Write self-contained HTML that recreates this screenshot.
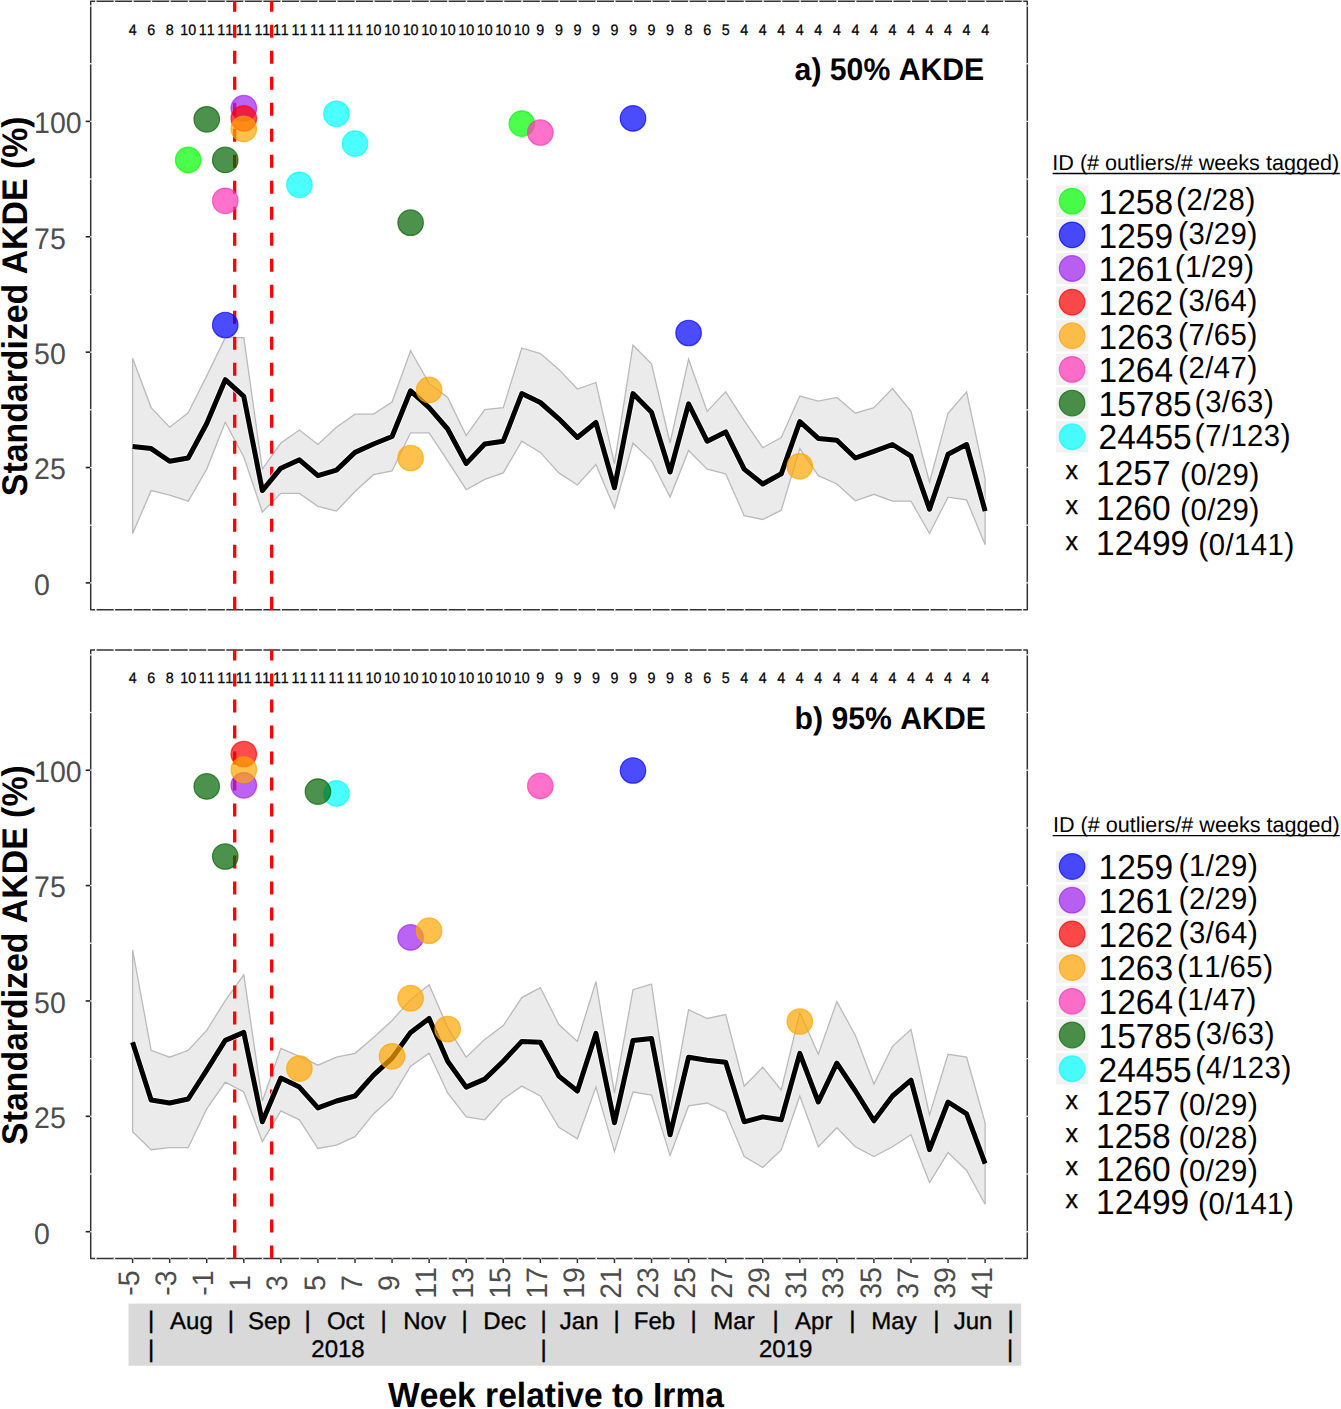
<!DOCTYPE html>
<html><head><meta charset="utf-8"><title>AKDE</title><style>
html,body{margin:0;padding:0;background:#fff;}
svg{display:block;}
text{font-family:"Liberation Sans",sans-serif;font-kerning:none;text-rendering:geometricPrecision;}
</style></head><body>
<svg width="1341" height="1409" viewBox="0 0 1341 1409">
<rect width="1341" height="1409" fill="#fff"/>

<polygon points="132.6,358.2 151.13,407.6 169.67,427.2 188.2,412.8 206.73,375.9 225.26,337.7 243.8,337.7 262.33,469.1 280.86,443 299.4,430 317.93,444.5 336.46,427.2 355,414.1 373.53,414.1 392.06,402 410.6,350.8 429.13,383.4 447.66,397.4 466.19,435.6 484.73,409.5 503.26,407.6 521.79,348 540.33,353.6 558.86,369.4 577.39,389 595.93,382.5 614.46,463.6 632.99,345.2 651.52,363.8 670.06,443 688.59,359.2 707.12,411.4 725.66,391.8 744.19,420.7 762.72,447.7 781.26,437.5 799.79,396 818.32,401.1 836.85,397.4 855.39,413.2 873.92,407.6 892.45,388.6 910.99,411.4 929.52,482.2 948.05,413.2 966.59,391.8 985.12,478.5 985.12,544.7 966.59,499.9 948.05,497.1 929.52,533.5 910.99,501.2 892.45,501.2 873.92,494.3 855.39,500.8 836.85,484 818.32,475.7 799.79,448.6 781.26,510.2 762.72,519.5 744.19,515.7 725.66,473.8 707.12,469.1 688.59,450.5 670.06,497.1 651.52,460.8 632.99,443 614.46,508.3 595.93,464.5 577.39,485 558.86,472.9 540.33,452.4 521.79,441.2 503.26,472.9 484.73,479.4 466.19,489.7 447.66,460.8 429.13,432.8 410.6,432.8 392.06,471 373.53,474.7 355,491.5 336.46,511.1 317.93,506.4 299.4,493.4 280.86,493.4 262.33,512 243.8,457 225.26,422.2 206.73,469.1 188.2,501.2 169.67,495.2 151.13,490.6 132.6,533.5" fill="#ebebeb" stroke="#bababa" stroke-width="1.3" stroke-linejoin="miter"/>
<rect x="90.7" y="1.3" width="936.6" height="608.4" fill="none" stroke="#333" stroke-width="1.5" stroke-linejoin="round"/>
<line x1="95.83" y1="0.3" x2="95.83" y2="2.3" stroke="#fff" stroke-width="1.5"/>
<line x1="95.83" y1="608.7" x2="95.83" y2="610.7" stroke="#fff" stroke-width="1.5"/>
<line x1="114.37" y1="0.3" x2="114.37" y2="2.3" stroke="#fff" stroke-width="1.5"/>
<line x1="114.37" y1="608.7" x2="114.37" y2="610.7" stroke="#fff" stroke-width="1.5"/>
<line x1="132.9" y1="0.3" x2="132.9" y2="2.3" stroke="#fff" stroke-width="1.5"/>
<line x1="132.9" y1="608.7" x2="132.9" y2="610.7" stroke="#fff" stroke-width="1.5"/>
<line x1="151.43" y1="0.3" x2="151.43" y2="2.3" stroke="#fff" stroke-width="1.5"/>
<line x1="151.43" y1="608.7" x2="151.43" y2="610.7" stroke="#fff" stroke-width="1.5"/>
<line x1="169.97" y1="0.3" x2="169.97" y2="2.3" stroke="#fff" stroke-width="1.5"/>
<line x1="169.97" y1="608.7" x2="169.97" y2="610.7" stroke="#fff" stroke-width="1.5"/>
<line x1="188.5" y1="0.3" x2="188.5" y2="2.3" stroke="#fff" stroke-width="1.5"/>
<line x1="188.5" y1="608.7" x2="188.5" y2="610.7" stroke="#fff" stroke-width="1.5"/>
<line x1="207.03" y1="0.3" x2="207.03" y2="2.3" stroke="#fff" stroke-width="1.5"/>
<line x1="207.03" y1="608.7" x2="207.03" y2="610.7" stroke="#fff" stroke-width="1.5"/>
<line x1="225.56" y1="0.3" x2="225.56" y2="2.3" stroke="#fff" stroke-width="1.5"/>
<line x1="225.56" y1="608.7" x2="225.56" y2="610.7" stroke="#fff" stroke-width="1.5"/>
<line x1="244.1" y1="0.3" x2="244.1" y2="2.3" stroke="#fff" stroke-width="1.5"/>
<line x1="244.1" y1="608.7" x2="244.1" y2="610.7" stroke="#fff" stroke-width="1.5"/>
<line x1="262.63" y1="0.3" x2="262.63" y2="2.3" stroke="#fff" stroke-width="1.5"/>
<line x1="262.63" y1="608.7" x2="262.63" y2="610.7" stroke="#fff" stroke-width="1.5"/>
<line x1="281.16" y1="0.3" x2="281.16" y2="2.3" stroke="#fff" stroke-width="1.5"/>
<line x1="281.16" y1="608.7" x2="281.16" y2="610.7" stroke="#fff" stroke-width="1.5"/>
<line x1="299.7" y1="0.3" x2="299.7" y2="2.3" stroke="#fff" stroke-width="1.5"/>
<line x1="299.7" y1="608.7" x2="299.7" y2="610.7" stroke="#fff" stroke-width="1.5"/>
<line x1="318.23" y1="0.3" x2="318.23" y2="2.3" stroke="#fff" stroke-width="1.5"/>
<line x1="318.23" y1="608.7" x2="318.23" y2="610.7" stroke="#fff" stroke-width="1.5"/>
<line x1="336.76" y1="0.3" x2="336.76" y2="2.3" stroke="#fff" stroke-width="1.5"/>
<line x1="336.76" y1="608.7" x2="336.76" y2="610.7" stroke="#fff" stroke-width="1.5"/>
<line x1="355.3" y1="0.3" x2="355.3" y2="2.3" stroke="#fff" stroke-width="1.5"/>
<line x1="355.3" y1="608.7" x2="355.3" y2="610.7" stroke="#fff" stroke-width="1.5"/>
<line x1="373.83" y1="0.3" x2="373.83" y2="2.3" stroke="#fff" stroke-width="1.5"/>
<line x1="373.83" y1="608.7" x2="373.83" y2="610.7" stroke="#fff" stroke-width="1.5"/>
<line x1="392.36" y1="0.3" x2="392.36" y2="2.3" stroke="#fff" stroke-width="1.5"/>
<line x1="392.36" y1="608.7" x2="392.36" y2="610.7" stroke="#fff" stroke-width="1.5"/>
<line x1="410.9" y1="0.3" x2="410.9" y2="2.3" stroke="#fff" stroke-width="1.5"/>
<line x1="410.9" y1="608.7" x2="410.9" y2="610.7" stroke="#fff" stroke-width="1.5"/>
<line x1="429.43" y1="0.3" x2="429.43" y2="2.3" stroke="#fff" stroke-width="1.5"/>
<line x1="429.43" y1="608.7" x2="429.43" y2="610.7" stroke="#fff" stroke-width="1.5"/>
<line x1="447.96" y1="0.3" x2="447.96" y2="2.3" stroke="#fff" stroke-width="1.5"/>
<line x1="447.96" y1="608.7" x2="447.96" y2="610.7" stroke="#fff" stroke-width="1.5"/>
<line x1="466.49" y1="0.3" x2="466.49" y2="2.3" stroke="#fff" stroke-width="1.5"/>
<line x1="466.49" y1="608.7" x2="466.49" y2="610.7" stroke="#fff" stroke-width="1.5"/>
<line x1="485.03" y1="0.3" x2="485.03" y2="2.3" stroke="#fff" stroke-width="1.5"/>
<line x1="485.03" y1="608.7" x2="485.03" y2="610.7" stroke="#fff" stroke-width="1.5"/>
<line x1="503.56" y1="0.3" x2="503.56" y2="2.3" stroke="#fff" stroke-width="1.5"/>
<line x1="503.56" y1="608.7" x2="503.56" y2="610.7" stroke="#fff" stroke-width="1.5"/>
<line x1="522.09" y1="0.3" x2="522.09" y2="2.3" stroke="#fff" stroke-width="1.5"/>
<line x1="522.09" y1="608.7" x2="522.09" y2="610.7" stroke="#fff" stroke-width="1.5"/>
<line x1="540.63" y1="0.3" x2="540.63" y2="2.3" stroke="#fff" stroke-width="1.5"/>
<line x1="540.63" y1="608.7" x2="540.63" y2="610.7" stroke="#fff" stroke-width="1.5"/>
<line x1="559.16" y1="0.3" x2="559.16" y2="2.3" stroke="#fff" stroke-width="1.5"/>
<line x1="559.16" y1="608.7" x2="559.16" y2="610.7" stroke="#fff" stroke-width="1.5"/>
<line x1="577.69" y1="0.3" x2="577.69" y2="2.3" stroke="#fff" stroke-width="1.5"/>
<line x1="577.69" y1="608.7" x2="577.69" y2="610.7" stroke="#fff" stroke-width="1.5"/>
<line x1="596.23" y1="0.3" x2="596.23" y2="2.3" stroke="#fff" stroke-width="1.5"/>
<line x1="596.23" y1="608.7" x2="596.23" y2="610.7" stroke="#fff" stroke-width="1.5"/>
<line x1="614.76" y1="0.3" x2="614.76" y2="2.3" stroke="#fff" stroke-width="1.5"/>
<line x1="614.76" y1="608.7" x2="614.76" y2="610.7" stroke="#fff" stroke-width="1.5"/>
<line x1="633.29" y1="0.3" x2="633.29" y2="2.3" stroke="#fff" stroke-width="1.5"/>
<line x1="633.29" y1="608.7" x2="633.29" y2="610.7" stroke="#fff" stroke-width="1.5"/>
<line x1="651.82" y1="0.3" x2="651.82" y2="2.3" stroke="#fff" stroke-width="1.5"/>
<line x1="651.82" y1="608.7" x2="651.82" y2="610.7" stroke="#fff" stroke-width="1.5"/>
<line x1="670.36" y1="0.3" x2="670.36" y2="2.3" stroke="#fff" stroke-width="1.5"/>
<line x1="670.36" y1="608.7" x2="670.36" y2="610.7" stroke="#fff" stroke-width="1.5"/>
<line x1="688.89" y1="0.3" x2="688.89" y2="2.3" stroke="#fff" stroke-width="1.5"/>
<line x1="688.89" y1="608.7" x2="688.89" y2="610.7" stroke="#fff" stroke-width="1.5"/>
<line x1="707.42" y1="0.3" x2="707.42" y2="2.3" stroke="#fff" stroke-width="1.5"/>
<line x1="707.42" y1="608.7" x2="707.42" y2="610.7" stroke="#fff" stroke-width="1.5"/>
<line x1="725.96" y1="0.3" x2="725.96" y2="2.3" stroke="#fff" stroke-width="1.5"/>
<line x1="725.96" y1="608.7" x2="725.96" y2="610.7" stroke="#fff" stroke-width="1.5"/>
<line x1="744.49" y1="0.3" x2="744.49" y2="2.3" stroke="#fff" stroke-width="1.5"/>
<line x1="744.49" y1="608.7" x2="744.49" y2="610.7" stroke="#fff" stroke-width="1.5"/>
<line x1="763.02" y1="0.3" x2="763.02" y2="2.3" stroke="#fff" stroke-width="1.5"/>
<line x1="763.02" y1="608.7" x2="763.02" y2="610.7" stroke="#fff" stroke-width="1.5"/>
<line x1="781.56" y1="0.3" x2="781.56" y2="2.3" stroke="#fff" stroke-width="1.5"/>
<line x1="781.56" y1="608.7" x2="781.56" y2="610.7" stroke="#fff" stroke-width="1.5"/>
<line x1="800.09" y1="0.3" x2="800.09" y2="2.3" stroke="#fff" stroke-width="1.5"/>
<line x1="800.09" y1="608.7" x2="800.09" y2="610.7" stroke="#fff" stroke-width="1.5"/>
<line x1="818.62" y1="0.3" x2="818.62" y2="2.3" stroke="#fff" stroke-width="1.5"/>
<line x1="818.62" y1="608.7" x2="818.62" y2="610.7" stroke="#fff" stroke-width="1.5"/>
<line x1="837.15" y1="0.3" x2="837.15" y2="2.3" stroke="#fff" stroke-width="1.5"/>
<line x1="837.15" y1="608.7" x2="837.15" y2="610.7" stroke="#fff" stroke-width="1.5"/>
<line x1="855.69" y1="0.3" x2="855.69" y2="2.3" stroke="#fff" stroke-width="1.5"/>
<line x1="855.69" y1="608.7" x2="855.69" y2="610.7" stroke="#fff" stroke-width="1.5"/>
<line x1="874.22" y1="0.3" x2="874.22" y2="2.3" stroke="#fff" stroke-width="1.5"/>
<line x1="874.22" y1="608.7" x2="874.22" y2="610.7" stroke="#fff" stroke-width="1.5"/>
<line x1="892.75" y1="0.3" x2="892.75" y2="2.3" stroke="#fff" stroke-width="1.5"/>
<line x1="892.75" y1="608.7" x2="892.75" y2="610.7" stroke="#fff" stroke-width="1.5"/>
<line x1="911.29" y1="0.3" x2="911.29" y2="2.3" stroke="#fff" stroke-width="1.5"/>
<line x1="911.29" y1="608.7" x2="911.29" y2="610.7" stroke="#fff" stroke-width="1.5"/>
<line x1="929.82" y1="0.3" x2="929.82" y2="2.3" stroke="#fff" stroke-width="1.5"/>
<line x1="929.82" y1="608.7" x2="929.82" y2="610.7" stroke="#fff" stroke-width="1.5"/>
<line x1="948.35" y1="0.3" x2="948.35" y2="2.3" stroke="#fff" stroke-width="1.5"/>
<line x1="948.35" y1="608.7" x2="948.35" y2="610.7" stroke="#fff" stroke-width="1.5"/>
<line x1="966.88" y1="0.3" x2="966.88" y2="2.3" stroke="#fff" stroke-width="1.5"/>
<line x1="966.88" y1="608.7" x2="966.88" y2="610.7" stroke="#fff" stroke-width="1.5"/>
<line x1="985.42" y1="0.3" x2="985.42" y2="2.3" stroke="#fff" stroke-width="1.5"/>
<line x1="985.42" y1="608.7" x2="985.42" y2="610.7" stroke="#fff" stroke-width="1.5"/>
<line x1="1003.95" y1="0.3" x2="1003.95" y2="2.3" stroke="#fff" stroke-width="1.5"/>
<line x1="1003.95" y1="608.7" x2="1003.95" y2="610.7" stroke="#fff" stroke-width="1.5"/>
<line x1="1022.48" y1="0.3" x2="1022.48" y2="2.3" stroke="#fff" stroke-width="1.5"/>
<line x1="1022.48" y1="608.7" x2="1022.48" y2="610.7" stroke="#fff" stroke-width="1.5"/>
<line x1="89.7" y1="582.9" x2="91.7" y2="582.9" stroke="#fff" stroke-width="1.3"/>
<line x1="1026.3" y1="582.9" x2="1028.3" y2="582.9" stroke="#fff" stroke-width="1.3"/>
<line x1="89.7" y1="525.21" x2="91.7" y2="525.21" stroke="#fff" stroke-width="1.3"/>
<line x1="1026.3" y1="525.21" x2="1028.3" y2="525.21" stroke="#fff" stroke-width="1.3"/>
<line x1="89.7" y1="467.52" x2="91.7" y2="467.52" stroke="#fff" stroke-width="1.3"/>
<line x1="1026.3" y1="467.52" x2="1028.3" y2="467.52" stroke="#fff" stroke-width="1.3"/>
<line x1="89.7" y1="409.84" x2="91.7" y2="409.84" stroke="#fff" stroke-width="1.3"/>
<line x1="1026.3" y1="409.84" x2="1028.3" y2="409.84" stroke="#fff" stroke-width="1.3"/>
<line x1="89.7" y1="352.15" x2="91.7" y2="352.15" stroke="#fff" stroke-width="1.3"/>
<line x1="1026.3" y1="352.15" x2="1028.3" y2="352.15" stroke="#fff" stroke-width="1.3"/>
<line x1="89.7" y1="294.46" x2="91.7" y2="294.46" stroke="#fff" stroke-width="1.3"/>
<line x1="1026.3" y1="294.46" x2="1028.3" y2="294.46" stroke="#fff" stroke-width="1.3"/>
<line x1="89.7" y1="236.77" x2="91.7" y2="236.77" stroke="#fff" stroke-width="1.3"/>
<line x1="1026.3" y1="236.77" x2="1028.3" y2="236.77" stroke="#fff" stroke-width="1.3"/>
<line x1="89.7" y1="179.09" x2="91.7" y2="179.09" stroke="#fff" stroke-width="1.3"/>
<line x1="1026.3" y1="179.09" x2="1028.3" y2="179.09" stroke="#fff" stroke-width="1.3"/>
<line x1="89.7" y1="121.4" x2="91.7" y2="121.4" stroke="#fff" stroke-width="1.3"/>
<line x1="1026.3" y1="121.4" x2="1028.3" y2="121.4" stroke="#fff" stroke-width="1.3"/>
<line x1="89.7" y1="63.71" x2="91.7" y2="63.71" stroke="#fff" stroke-width="1.3"/>
<line x1="1026.3" y1="63.71" x2="1028.3" y2="63.71" stroke="#fff" stroke-width="1.3"/>
<line x1="89.7" y1="6.02" x2="91.7" y2="6.02" stroke="#fff" stroke-width="1.3"/>
<line x1="1026.3" y1="6.02" x2="1028.3" y2="6.02" stroke="#fff" stroke-width="1.3"/>
<text x="0" y="0" transform="translate(132.6 34.5) scale(1 1.06)" font-size="14.3" fill="#000" text-anchor="middle" stroke="#000" stroke-width="0.25">4</text>
<text x="0" y="0" transform="translate(151.133 34.5) scale(1 1.06)" font-size="14.3" fill="#000" text-anchor="middle" stroke="#000" stroke-width="0.25">6</text>
<text x="0" y="0" transform="translate(169.666 34.5) scale(1 1.06)" font-size="14.3" fill="#000" text-anchor="middle" stroke="#000" stroke-width="0.25">8</text>
<text x="0" y="0" transform="translate(188.199 34.5) scale(1 1.06)" font-size="14.3" fill="#000" text-anchor="middle" stroke="#000" stroke-width="0.25">10</text>
<text x="0" y="0" transform="translate(206.732 34.5) scale(1 1.06)" font-size="14.3" fill="#000" text-anchor="middle" stroke="#000" stroke-width="0.25">11</text>
<text x="0" y="0" transform="translate(225.265 34.5) scale(1 1.06)" font-size="14.3" fill="#000" text-anchor="middle" stroke="#000" stroke-width="0.25">11</text>
<text x="0" y="0" transform="translate(243.798 34.5) scale(1 1.06)" font-size="14.3" fill="#000" text-anchor="middle" stroke="#000" stroke-width="0.25">11</text>
<text x="0" y="0" transform="translate(262.331 34.5) scale(1 1.06)" font-size="14.3" fill="#000" text-anchor="middle" stroke="#000" stroke-width="0.25">11</text>
<text x="0" y="0" transform="translate(280.864 34.5) scale(1 1.06)" font-size="14.3" fill="#000" text-anchor="middle" stroke="#000" stroke-width="0.25">11</text>
<text x="0" y="0" transform="translate(299.397 34.5) scale(1 1.06)" font-size="14.3" fill="#000" text-anchor="middle" stroke="#000" stroke-width="0.25">11</text>
<text x="0" y="0" transform="translate(317.93 34.5) scale(1 1.06)" font-size="14.3" fill="#000" text-anchor="middle" stroke="#000" stroke-width="0.25">11</text>
<text x="0" y="0" transform="translate(336.463 34.5) scale(1 1.06)" font-size="14.3" fill="#000" text-anchor="middle" stroke="#000" stroke-width="0.25">11</text>
<text x="0" y="0" transform="translate(354.996 34.5) scale(1 1.06)" font-size="14.3" fill="#000" text-anchor="middle" stroke="#000" stroke-width="0.25">11</text>
<text x="0" y="0" transform="translate(373.529 34.5) scale(1 1.06)" font-size="14.3" fill="#000" text-anchor="middle" stroke="#000" stroke-width="0.25">10</text>
<text x="0" y="0" transform="translate(392.062 34.5) scale(1 1.06)" font-size="14.3" fill="#000" text-anchor="middle" stroke="#000" stroke-width="0.25">10</text>
<text x="0" y="0" transform="translate(410.595 34.5) scale(1 1.06)" font-size="14.3" fill="#000" text-anchor="middle" stroke="#000" stroke-width="0.25">10</text>
<text x="0" y="0" transform="translate(429.128 34.5) scale(1 1.06)" font-size="14.3" fill="#000" text-anchor="middle" stroke="#000" stroke-width="0.25">10</text>
<text x="0" y="0" transform="translate(447.661 34.5) scale(1 1.06)" font-size="14.3" fill="#000" text-anchor="middle" stroke="#000" stroke-width="0.25">10</text>
<text x="0" y="0" transform="translate(466.194 34.5) scale(1 1.06)" font-size="14.3" fill="#000" text-anchor="middle" stroke="#000" stroke-width="0.25">10</text>
<text x="0" y="0" transform="translate(484.727 34.5) scale(1 1.06)" font-size="14.3" fill="#000" text-anchor="middle" stroke="#000" stroke-width="0.25">10</text>
<text x="0" y="0" transform="translate(503.26 34.5) scale(1 1.06)" font-size="14.3" fill="#000" text-anchor="middle" stroke="#000" stroke-width="0.25">10</text>
<text x="0" y="0" transform="translate(521.793 34.5) scale(1 1.06)" font-size="14.3" fill="#000" text-anchor="middle" stroke="#000" stroke-width="0.25">10</text>
<text x="0" y="0" transform="translate(540.326 34.5) scale(1 1.06)" font-size="14.3" fill="#000" text-anchor="middle" stroke="#000" stroke-width="0.25">9</text>
<text x="0" y="0" transform="translate(558.859 34.5) scale(1 1.06)" font-size="14.3" fill="#000" text-anchor="middle" stroke="#000" stroke-width="0.25">9</text>
<text x="0" y="0" transform="translate(577.392 34.5) scale(1 1.06)" font-size="14.3" fill="#000" text-anchor="middle" stroke="#000" stroke-width="0.25">9</text>
<text x="0" y="0" transform="translate(595.925 34.5) scale(1 1.06)" font-size="14.3" fill="#000" text-anchor="middle" stroke="#000" stroke-width="0.25">9</text>
<text x="0" y="0" transform="translate(614.458 34.5) scale(1 1.06)" font-size="14.3" fill="#000" text-anchor="middle" stroke="#000" stroke-width="0.25">9</text>
<text x="0" y="0" transform="translate(632.991 34.5) scale(1 1.06)" font-size="14.3" fill="#000" text-anchor="middle" stroke="#000" stroke-width="0.25">9</text>
<text x="0" y="0" transform="translate(651.524 34.5) scale(1 1.06)" font-size="14.3" fill="#000" text-anchor="middle" stroke="#000" stroke-width="0.25">9</text>
<text x="0" y="0" transform="translate(670.057 34.5) scale(1 1.06)" font-size="14.3" fill="#000" text-anchor="middle" stroke="#000" stroke-width="0.25">9</text>
<text x="0" y="0" transform="translate(688.59 34.5) scale(1 1.06)" font-size="14.3" fill="#000" text-anchor="middle" stroke="#000" stroke-width="0.25">8</text>
<text x="0" y="0" transform="translate(707.123 34.5) scale(1 1.06)" font-size="14.3" fill="#000" text-anchor="middle" stroke="#000" stroke-width="0.25">6</text>
<text x="0" y="0" transform="translate(725.656 34.5) scale(1 1.06)" font-size="14.3" fill="#000" text-anchor="middle" stroke="#000" stroke-width="0.25">5</text>
<text x="0" y="0" transform="translate(744.189 34.5) scale(1 1.06)" font-size="14.3" fill="#000" text-anchor="middle" stroke="#000" stroke-width="0.25">4</text>
<text x="0" y="0" transform="translate(762.722 34.5) scale(1 1.06)" font-size="14.3" fill="#000" text-anchor="middle" stroke="#000" stroke-width="0.25">4</text>
<text x="0" y="0" transform="translate(781.255 34.5) scale(1 1.06)" font-size="14.3" fill="#000" text-anchor="middle" stroke="#000" stroke-width="0.25">4</text>
<text x="0" y="0" transform="translate(799.788 34.5) scale(1 1.06)" font-size="14.3" fill="#000" text-anchor="middle" stroke="#000" stroke-width="0.25">4</text>
<text x="0" y="0" transform="translate(818.321 34.5) scale(1 1.06)" font-size="14.3" fill="#000" text-anchor="middle" stroke="#000" stroke-width="0.25">4</text>
<text x="0" y="0" transform="translate(836.854 34.5) scale(1 1.06)" font-size="14.3" fill="#000" text-anchor="middle" stroke="#000" stroke-width="0.25">4</text>
<text x="0" y="0" transform="translate(855.387 34.5) scale(1 1.06)" font-size="14.3" fill="#000" text-anchor="middle" stroke="#000" stroke-width="0.25">4</text>
<text x="0" y="0" transform="translate(873.92 34.5) scale(1 1.06)" font-size="14.3" fill="#000" text-anchor="middle" stroke="#000" stroke-width="0.25">4</text>
<text x="0" y="0" transform="translate(892.453 34.5) scale(1 1.06)" font-size="14.3" fill="#000" text-anchor="middle" stroke="#000" stroke-width="0.25">4</text>
<text x="0" y="0" transform="translate(910.986 34.5) scale(1 1.06)" font-size="14.3" fill="#000" text-anchor="middle" stroke="#000" stroke-width="0.25">4</text>
<text x="0" y="0" transform="translate(929.519 34.5) scale(1 1.06)" font-size="14.3" fill="#000" text-anchor="middle" stroke="#000" stroke-width="0.25">4</text>
<text x="0" y="0" transform="translate(948.052 34.5) scale(1 1.06)" font-size="14.3" fill="#000" text-anchor="middle" stroke="#000" stroke-width="0.25">4</text>
<text x="0" y="0" transform="translate(966.585 34.5) scale(1 1.06)" font-size="14.3" fill="#000" text-anchor="middle" stroke="#000" stroke-width="0.25">4</text>
<text x="0" y="0" transform="translate(985.118 34.5) scale(1 1.06)" font-size="14.3" fill="#000" text-anchor="middle" stroke="#000" stroke-width="0.25">4</text>
<text x="0" y="0" transform="translate(794.6 79.8) scale(1 1.04)" font-size="30.2" fill="#000" font-weight="bold">a) 50% AKDE</text>
<line x1="234.7" y1="609.7" x2="234.7" y2="1.3" stroke="#ff0000" stroke-width="3.3" stroke-dasharray="13 13"/>
<line x1="271.7" y1="609.7" x2="271.7" y2="1.3" stroke="#ff0000" stroke-width="3.3" stroke-dasharray="13 13"/>
<polyline points="132.6,446.4 151.13,448.6 169.67,461.3 188.2,458 206.73,423.5 225.26,379.7 243.8,396.4 262.33,490.6 280.86,468.2 299.4,459.8 317.93,475.7 336.46,470.1 355,452.4 373.53,444 392.06,436.5 410.6,390.8 429.13,407.6 447.66,429 466.19,463.6 484.73,444 503.26,441.2 521.79,393.6 540.33,402.5 558.86,418.8 577.39,437.5 595.93,422.5 614.46,487.8 632.99,393.6 651.52,412.3 670.06,472 688.59,403.9 707.12,441.2 725.66,431.9 744.19,469.1 762.72,484 781.26,473.8 799.79,421.6 818.32,438.4 836.85,440.2 855.39,458 873.92,451.4 892.45,444.5 910.99,456.1 929.52,509.2 948.05,454.2 966.59,444.5 985.12,511.1" fill="none" stroke="#fff" stroke-opacity="0.75" stroke-width="7" stroke-linejoin="round"/>
<polyline points="132.6,446.4 151.13,448.6 169.67,461.3 188.2,458 206.73,423.5 225.26,379.7 243.8,396.4 262.33,490.6 280.86,468.2 299.4,459.8 317.93,475.7 336.46,470.1 355,452.4 373.53,444 392.06,436.5 410.6,390.8 429.13,407.6 447.66,429 466.19,463.6 484.73,444 503.26,441.2 521.79,393.6 540.33,402.5 558.86,418.8 577.39,437.5 595.93,422.5 614.46,487.8 632.99,393.6 651.52,412.3 670.06,472 688.59,403.9 707.12,441.2 725.66,431.9 744.19,469.1 762.72,484 781.26,473.8 799.79,421.6 818.32,438.4 836.85,440.2 855.39,458 873.92,451.4 892.45,444.5 910.99,456.1 929.52,509.2 948.05,454.2 966.59,444.5 985.12,511.1" fill="none" stroke="#000" stroke-width="5" stroke-linejoin="round"/>
<circle cx="299.4" cy="184.8" r="12.75" fill="rgba(0,255,255,0.7)" stroke="rgba(0,255,255,0.7)" stroke-width="1.2"/>
<circle cx="336.46" cy="113.8" r="12.75" fill="rgba(0,255,255,0.7)" stroke="rgba(0,255,255,0.7)" stroke-width="1.2"/>
<circle cx="355" cy="143.6" r="12.75" fill="rgba(0,255,255,0.7)" stroke="rgba(0,255,255,0.7)" stroke-width="1.2"/>
<circle cx="188.2" cy="159.9" r="12.75" fill="rgba(0,255,0,0.7)" stroke="rgba(0,255,0,0.7)" stroke-width="1.2"/>
<circle cx="521.79" cy="123.6" r="12.75" fill="rgba(0,255,0,0.7)" stroke="rgba(0,255,0,0.7)" stroke-width="1.2"/>
<circle cx="225.26" cy="325" r="12.75" fill="rgba(0,0,255,0.7)" stroke="rgba(0,0,255,0.7)" stroke-width="1.2"/>
<circle cx="632.99" cy="118.4" r="12.75" fill="rgba(0,0,255,0.7)" stroke="rgba(0,0,255,0.7)" stroke-width="1.2"/>
<circle cx="688.59" cy="333" r="12.75" fill="rgba(0,0,255,0.7)" stroke="rgba(0,0,255,0.7)" stroke-width="1.2"/>
<circle cx="243.8" cy="108.2" r="12.75" fill="rgba(160,32,240,0.7)" stroke="rgba(160,32,240,0.7)" stroke-width="1.2"/>
<circle cx="243.8" cy="118.4" r="12.75" fill="rgba(255,0,0,0.7)" stroke="rgba(255,0,0,0.7)" stroke-width="1.2"/>
<circle cx="243.8" cy="128.9" r="12.75" fill="rgba(255,165,0,0.7)" stroke="rgba(255,165,0,0.7)" stroke-width="1.2"/>
<circle cx="410.6" cy="458" r="12.75" fill="rgba(255,165,0,0.7)" stroke="rgba(255,165,0,0.7)" stroke-width="1.2"/>
<circle cx="429.13" cy="389.9" r="12.75" fill="rgba(255,165,0,0.7)" stroke="rgba(255,165,0,0.7)" stroke-width="1.2"/>
<circle cx="799.79" cy="466.3" r="12.75" fill="rgba(255,165,0,0.7)" stroke="rgba(255,165,0,0.7)" stroke-width="1.2"/>
<circle cx="225.26" cy="200.8" r="12.75" fill="rgba(255,52,179,0.7)" stroke="rgba(255,52,179,0.7)" stroke-width="1.2"/>
<circle cx="540.33" cy="132.5" r="12.75" fill="rgba(255,52,179,0.7)" stroke="rgba(255,52,179,0.7)" stroke-width="1.2"/>
<circle cx="206.73" cy="119.3" r="12.75" fill="rgba(0,100,0,0.7)" stroke="rgba(0,100,0,0.7)" stroke-width="1.2"/>
<circle cx="225.26" cy="159.9" r="12.75" fill="rgba(0,100,0,0.7)" stroke="rgba(0,100,0,0.7)" stroke-width="1.2"/>
<circle cx="410.6" cy="222.7" r="12.75" fill="rgba(0,100,0,0.7)" stroke="rgba(0,100,0,0.7)" stroke-width="1.2"/>
<line x1="85.7" y1="582.9" x2="90.1" y2="582.9" stroke="#222" stroke-width="1.6"/>
<text x="0" y="0" transform="translate(34.1 594.8) scale(1 1.04)" font-size="28.5" fill="#4d4d4d">0</text>
<line x1="85.7" y1="467.52" x2="90.1" y2="467.52" stroke="#222" stroke-width="1.6"/>
<text x="0" y="0" transform="translate(34.1 479.425) scale(1 1.04)" font-size="28.5" fill="#4d4d4d">25</text>
<line x1="85.7" y1="352.15" x2="90.1" y2="352.15" stroke="#222" stroke-width="1.6"/>
<text x="0" y="0" transform="translate(34.1 364.05) scale(1 1.04)" font-size="28.5" fill="#4d4d4d">50</text>
<line x1="85.7" y1="236.77" x2="90.1" y2="236.77" stroke="#222" stroke-width="1.6"/>
<text x="0" y="0" transform="translate(34.1 248.675) scale(1 1.04)" font-size="28.5" fill="#4d4d4d">75</text>
<line x1="85.7" y1="121.4" x2="90.1" y2="121.4" stroke="#222" stroke-width="1.6"/>
<text x="0" y="0" transform="translate(34.1 133.3) scale(1 1.04)" font-size="28.5" fill="#4d4d4d">100</text>
<text x="0" y="0" transform="translate(26.5 306.3) rotate(-90) scale(1 1.055)" font-size="33.85" fill="#000" font-weight="bold" text-anchor="middle">Standardized AKDE (%)</text>
<polygon points="132.6,949.9 151.13,1050.3 169.67,1057.2 188.2,1050.3 206.73,1030.4 225.26,1000.6 243.8,974.8 262.33,1101 280.86,1048.3 299.4,1056.3 317.93,1065.2 336.46,1057.2 355,1053.3 373.53,1037.4 392.06,1020.5 410.6,999.6 429.13,984.7 447.66,1027.4 466.19,1057.2 484.73,1039.4 503.26,1025.5 521.79,997.6 540.33,987.7 558.86,1024.5 577.39,1041.4 595.93,981.7 614.46,1093 632.99,989.7 651.52,984.1 670.06,1110.9 688.59,1009.6 707.12,1018.5 725.66,1014.5 744.19,1086.1 762.72,1067.2 781.26,1090 799.79,1012.5 818.32,1054.3 836.85,1001.6 855.39,1035.4 873.92,1084.1 892.45,1046.3 910.99,1029.4 929.52,1114.9 948.05,1054.3 966.59,1057.2 985.12,1122.8 985.12,1204.3 966.59,1170.5 948.05,1152.6 929.52,1182.5 910.99,1134.8 892.45,1146.7 873.92,1156.6 855.39,1146.7 836.85,1127.8 818.32,1146.7 799.79,1096 781.26,1150 762.72,1167.5 744.19,1156.6 725.66,1111.9 707.12,1103 688.59,1105.9 670.06,1155.6 651.52,1095 632.99,1092 614.46,1151.6 595.93,1087.1 577.39,1138.7 558.86,1127.3 540.33,1096 521.79,1086.1 503.26,1099 484.73,1119.8 466.19,1116.9 447.66,1093 429.13,1053.3 410.6,1066.2 392.06,1097 373.53,1113.9 355,1136.7 336.46,1145.2 317.93,1148.5 299.4,1119.8 280.86,1110.9 262.33,1141.7 243.8,1092 225.26,1082.1 206.73,1108.9 188.2,1147.7 169.67,1147.7 151.13,1149.7 132.6,1131.8" fill="#ebebeb" stroke="#bababa" stroke-width="1.3" stroke-linejoin="miter"/>
<rect x="90.7" y="650.1" width="936.6" height="608.4" fill="none" stroke="#333" stroke-width="1.5" stroke-linejoin="round"/>
<line x1="95.83" y1="649.1" x2="95.83" y2="651.1" stroke="#fff" stroke-width="1.5"/>
<line x1="95.83" y1="1257.5" x2="95.83" y2="1259.5" stroke="#fff" stroke-width="1.5"/>
<line x1="114.37" y1="649.1" x2="114.37" y2="651.1" stroke="#fff" stroke-width="1.5"/>
<line x1="114.37" y1="1257.5" x2="114.37" y2="1259.5" stroke="#fff" stroke-width="1.5"/>
<line x1="132.9" y1="649.1" x2="132.9" y2="651.1" stroke="#fff" stroke-width="1.5"/>
<line x1="132.9" y1="1257.5" x2="132.9" y2="1259.5" stroke="#fff" stroke-width="1.5"/>
<line x1="151.43" y1="649.1" x2="151.43" y2="651.1" stroke="#fff" stroke-width="1.5"/>
<line x1="151.43" y1="1257.5" x2="151.43" y2="1259.5" stroke="#fff" stroke-width="1.5"/>
<line x1="169.97" y1="649.1" x2="169.97" y2="651.1" stroke="#fff" stroke-width="1.5"/>
<line x1="169.97" y1="1257.5" x2="169.97" y2="1259.5" stroke="#fff" stroke-width="1.5"/>
<line x1="188.5" y1="649.1" x2="188.5" y2="651.1" stroke="#fff" stroke-width="1.5"/>
<line x1="188.5" y1="1257.5" x2="188.5" y2="1259.5" stroke="#fff" stroke-width="1.5"/>
<line x1="207.03" y1="649.1" x2="207.03" y2="651.1" stroke="#fff" stroke-width="1.5"/>
<line x1="207.03" y1="1257.5" x2="207.03" y2="1259.5" stroke="#fff" stroke-width="1.5"/>
<line x1="225.56" y1="649.1" x2="225.56" y2="651.1" stroke="#fff" stroke-width="1.5"/>
<line x1="225.56" y1="1257.5" x2="225.56" y2="1259.5" stroke="#fff" stroke-width="1.5"/>
<line x1="244.1" y1="649.1" x2="244.1" y2="651.1" stroke="#fff" stroke-width="1.5"/>
<line x1="244.1" y1="1257.5" x2="244.1" y2="1259.5" stroke="#fff" stroke-width="1.5"/>
<line x1="262.63" y1="649.1" x2="262.63" y2="651.1" stroke="#fff" stroke-width="1.5"/>
<line x1="262.63" y1="1257.5" x2="262.63" y2="1259.5" stroke="#fff" stroke-width="1.5"/>
<line x1="281.16" y1="649.1" x2="281.16" y2="651.1" stroke="#fff" stroke-width="1.5"/>
<line x1="281.16" y1="1257.5" x2="281.16" y2="1259.5" stroke="#fff" stroke-width="1.5"/>
<line x1="299.7" y1="649.1" x2="299.7" y2="651.1" stroke="#fff" stroke-width="1.5"/>
<line x1="299.7" y1="1257.5" x2="299.7" y2="1259.5" stroke="#fff" stroke-width="1.5"/>
<line x1="318.23" y1="649.1" x2="318.23" y2="651.1" stroke="#fff" stroke-width="1.5"/>
<line x1="318.23" y1="1257.5" x2="318.23" y2="1259.5" stroke="#fff" stroke-width="1.5"/>
<line x1="336.76" y1="649.1" x2="336.76" y2="651.1" stroke="#fff" stroke-width="1.5"/>
<line x1="336.76" y1="1257.5" x2="336.76" y2="1259.5" stroke="#fff" stroke-width="1.5"/>
<line x1="355.3" y1="649.1" x2="355.3" y2="651.1" stroke="#fff" stroke-width="1.5"/>
<line x1="355.3" y1="1257.5" x2="355.3" y2="1259.5" stroke="#fff" stroke-width="1.5"/>
<line x1="373.83" y1="649.1" x2="373.83" y2="651.1" stroke="#fff" stroke-width="1.5"/>
<line x1="373.83" y1="1257.5" x2="373.83" y2="1259.5" stroke="#fff" stroke-width="1.5"/>
<line x1="392.36" y1="649.1" x2="392.36" y2="651.1" stroke="#fff" stroke-width="1.5"/>
<line x1="392.36" y1="1257.5" x2="392.36" y2="1259.5" stroke="#fff" stroke-width="1.5"/>
<line x1="410.9" y1="649.1" x2="410.9" y2="651.1" stroke="#fff" stroke-width="1.5"/>
<line x1="410.9" y1="1257.5" x2="410.9" y2="1259.5" stroke="#fff" stroke-width="1.5"/>
<line x1="429.43" y1="649.1" x2="429.43" y2="651.1" stroke="#fff" stroke-width="1.5"/>
<line x1="429.43" y1="1257.5" x2="429.43" y2="1259.5" stroke="#fff" stroke-width="1.5"/>
<line x1="447.96" y1="649.1" x2="447.96" y2="651.1" stroke="#fff" stroke-width="1.5"/>
<line x1="447.96" y1="1257.5" x2="447.96" y2="1259.5" stroke="#fff" stroke-width="1.5"/>
<line x1="466.49" y1="649.1" x2="466.49" y2="651.1" stroke="#fff" stroke-width="1.5"/>
<line x1="466.49" y1="1257.5" x2="466.49" y2="1259.5" stroke="#fff" stroke-width="1.5"/>
<line x1="485.03" y1="649.1" x2="485.03" y2="651.1" stroke="#fff" stroke-width="1.5"/>
<line x1="485.03" y1="1257.5" x2="485.03" y2="1259.5" stroke="#fff" stroke-width="1.5"/>
<line x1="503.56" y1="649.1" x2="503.56" y2="651.1" stroke="#fff" stroke-width="1.5"/>
<line x1="503.56" y1="1257.5" x2="503.56" y2="1259.5" stroke="#fff" stroke-width="1.5"/>
<line x1="522.09" y1="649.1" x2="522.09" y2="651.1" stroke="#fff" stroke-width="1.5"/>
<line x1="522.09" y1="1257.5" x2="522.09" y2="1259.5" stroke="#fff" stroke-width="1.5"/>
<line x1="540.63" y1="649.1" x2="540.63" y2="651.1" stroke="#fff" stroke-width="1.5"/>
<line x1="540.63" y1="1257.5" x2="540.63" y2="1259.5" stroke="#fff" stroke-width="1.5"/>
<line x1="559.16" y1="649.1" x2="559.16" y2="651.1" stroke="#fff" stroke-width="1.5"/>
<line x1="559.16" y1="1257.5" x2="559.16" y2="1259.5" stroke="#fff" stroke-width="1.5"/>
<line x1="577.69" y1="649.1" x2="577.69" y2="651.1" stroke="#fff" stroke-width="1.5"/>
<line x1="577.69" y1="1257.5" x2="577.69" y2="1259.5" stroke="#fff" stroke-width="1.5"/>
<line x1="596.23" y1="649.1" x2="596.23" y2="651.1" stroke="#fff" stroke-width="1.5"/>
<line x1="596.23" y1="1257.5" x2="596.23" y2="1259.5" stroke="#fff" stroke-width="1.5"/>
<line x1="614.76" y1="649.1" x2="614.76" y2="651.1" stroke="#fff" stroke-width="1.5"/>
<line x1="614.76" y1="1257.5" x2="614.76" y2="1259.5" stroke="#fff" stroke-width="1.5"/>
<line x1="633.29" y1="649.1" x2="633.29" y2="651.1" stroke="#fff" stroke-width="1.5"/>
<line x1="633.29" y1="1257.5" x2="633.29" y2="1259.5" stroke="#fff" stroke-width="1.5"/>
<line x1="651.82" y1="649.1" x2="651.82" y2="651.1" stroke="#fff" stroke-width="1.5"/>
<line x1="651.82" y1="1257.5" x2="651.82" y2="1259.5" stroke="#fff" stroke-width="1.5"/>
<line x1="670.36" y1="649.1" x2="670.36" y2="651.1" stroke="#fff" stroke-width="1.5"/>
<line x1="670.36" y1="1257.5" x2="670.36" y2="1259.5" stroke="#fff" stroke-width="1.5"/>
<line x1="688.89" y1="649.1" x2="688.89" y2="651.1" stroke="#fff" stroke-width="1.5"/>
<line x1="688.89" y1="1257.5" x2="688.89" y2="1259.5" stroke="#fff" stroke-width="1.5"/>
<line x1="707.42" y1="649.1" x2="707.42" y2="651.1" stroke="#fff" stroke-width="1.5"/>
<line x1="707.42" y1="1257.5" x2="707.42" y2="1259.5" stroke="#fff" stroke-width="1.5"/>
<line x1="725.96" y1="649.1" x2="725.96" y2="651.1" stroke="#fff" stroke-width="1.5"/>
<line x1="725.96" y1="1257.5" x2="725.96" y2="1259.5" stroke="#fff" stroke-width="1.5"/>
<line x1="744.49" y1="649.1" x2="744.49" y2="651.1" stroke="#fff" stroke-width="1.5"/>
<line x1="744.49" y1="1257.5" x2="744.49" y2="1259.5" stroke="#fff" stroke-width="1.5"/>
<line x1="763.02" y1="649.1" x2="763.02" y2="651.1" stroke="#fff" stroke-width="1.5"/>
<line x1="763.02" y1="1257.5" x2="763.02" y2="1259.5" stroke="#fff" stroke-width="1.5"/>
<line x1="781.56" y1="649.1" x2="781.56" y2="651.1" stroke="#fff" stroke-width="1.5"/>
<line x1="781.56" y1="1257.5" x2="781.56" y2="1259.5" stroke="#fff" stroke-width="1.5"/>
<line x1="800.09" y1="649.1" x2="800.09" y2="651.1" stroke="#fff" stroke-width="1.5"/>
<line x1="800.09" y1="1257.5" x2="800.09" y2="1259.5" stroke="#fff" stroke-width="1.5"/>
<line x1="818.62" y1="649.1" x2="818.62" y2="651.1" stroke="#fff" stroke-width="1.5"/>
<line x1="818.62" y1="1257.5" x2="818.62" y2="1259.5" stroke="#fff" stroke-width="1.5"/>
<line x1="837.15" y1="649.1" x2="837.15" y2="651.1" stroke="#fff" stroke-width="1.5"/>
<line x1="837.15" y1="1257.5" x2="837.15" y2="1259.5" stroke="#fff" stroke-width="1.5"/>
<line x1="855.69" y1="649.1" x2="855.69" y2="651.1" stroke="#fff" stroke-width="1.5"/>
<line x1="855.69" y1="1257.5" x2="855.69" y2="1259.5" stroke="#fff" stroke-width="1.5"/>
<line x1="874.22" y1="649.1" x2="874.22" y2="651.1" stroke="#fff" stroke-width="1.5"/>
<line x1="874.22" y1="1257.5" x2="874.22" y2="1259.5" stroke="#fff" stroke-width="1.5"/>
<line x1="892.75" y1="649.1" x2="892.75" y2="651.1" stroke="#fff" stroke-width="1.5"/>
<line x1="892.75" y1="1257.5" x2="892.75" y2="1259.5" stroke="#fff" stroke-width="1.5"/>
<line x1="911.29" y1="649.1" x2="911.29" y2="651.1" stroke="#fff" stroke-width="1.5"/>
<line x1="911.29" y1="1257.5" x2="911.29" y2="1259.5" stroke="#fff" stroke-width="1.5"/>
<line x1="929.82" y1="649.1" x2="929.82" y2="651.1" stroke="#fff" stroke-width="1.5"/>
<line x1="929.82" y1="1257.5" x2="929.82" y2="1259.5" stroke="#fff" stroke-width="1.5"/>
<line x1="948.35" y1="649.1" x2="948.35" y2="651.1" stroke="#fff" stroke-width="1.5"/>
<line x1="948.35" y1="1257.5" x2="948.35" y2="1259.5" stroke="#fff" stroke-width="1.5"/>
<line x1="966.88" y1="649.1" x2="966.88" y2="651.1" stroke="#fff" stroke-width="1.5"/>
<line x1="966.88" y1="1257.5" x2="966.88" y2="1259.5" stroke="#fff" stroke-width="1.5"/>
<line x1="985.42" y1="649.1" x2="985.42" y2="651.1" stroke="#fff" stroke-width="1.5"/>
<line x1="985.42" y1="1257.5" x2="985.42" y2="1259.5" stroke="#fff" stroke-width="1.5"/>
<line x1="1003.95" y1="649.1" x2="1003.95" y2="651.1" stroke="#fff" stroke-width="1.5"/>
<line x1="1003.95" y1="1257.5" x2="1003.95" y2="1259.5" stroke="#fff" stroke-width="1.5"/>
<line x1="1022.48" y1="649.1" x2="1022.48" y2="651.1" stroke="#fff" stroke-width="1.5"/>
<line x1="1022.48" y1="1257.5" x2="1022.48" y2="1259.5" stroke="#fff" stroke-width="1.5"/>
<line x1="89.7" y1="1231.7" x2="91.7" y2="1231.7" stroke="#fff" stroke-width="1.3"/>
<line x1="1026.3" y1="1231.7" x2="1028.3" y2="1231.7" stroke="#fff" stroke-width="1.3"/>
<line x1="89.7" y1="1174.01" x2="91.7" y2="1174.01" stroke="#fff" stroke-width="1.3"/>
<line x1="1026.3" y1="1174.01" x2="1028.3" y2="1174.01" stroke="#fff" stroke-width="1.3"/>
<line x1="89.7" y1="1116.32" x2="91.7" y2="1116.32" stroke="#fff" stroke-width="1.3"/>
<line x1="1026.3" y1="1116.32" x2="1028.3" y2="1116.32" stroke="#fff" stroke-width="1.3"/>
<line x1="89.7" y1="1058.64" x2="91.7" y2="1058.64" stroke="#fff" stroke-width="1.3"/>
<line x1="1026.3" y1="1058.64" x2="1028.3" y2="1058.64" stroke="#fff" stroke-width="1.3"/>
<line x1="89.7" y1="1000.95" x2="91.7" y2="1000.95" stroke="#fff" stroke-width="1.3"/>
<line x1="1026.3" y1="1000.95" x2="1028.3" y2="1000.95" stroke="#fff" stroke-width="1.3"/>
<line x1="89.7" y1="943.26" x2="91.7" y2="943.26" stroke="#fff" stroke-width="1.3"/>
<line x1="1026.3" y1="943.26" x2="1028.3" y2="943.26" stroke="#fff" stroke-width="1.3"/>
<line x1="89.7" y1="885.57" x2="91.7" y2="885.57" stroke="#fff" stroke-width="1.3"/>
<line x1="1026.3" y1="885.57" x2="1028.3" y2="885.57" stroke="#fff" stroke-width="1.3"/>
<line x1="89.7" y1="827.89" x2="91.7" y2="827.89" stroke="#fff" stroke-width="1.3"/>
<line x1="1026.3" y1="827.89" x2="1028.3" y2="827.89" stroke="#fff" stroke-width="1.3"/>
<line x1="89.7" y1="770.2" x2="91.7" y2="770.2" stroke="#fff" stroke-width="1.3"/>
<line x1="1026.3" y1="770.2" x2="1028.3" y2="770.2" stroke="#fff" stroke-width="1.3"/>
<line x1="89.7" y1="712.51" x2="91.7" y2="712.51" stroke="#fff" stroke-width="1.3"/>
<line x1="1026.3" y1="712.51" x2="1028.3" y2="712.51" stroke="#fff" stroke-width="1.3"/>
<line x1="89.7" y1="654.82" x2="91.7" y2="654.82" stroke="#fff" stroke-width="1.3"/>
<line x1="1026.3" y1="654.82" x2="1028.3" y2="654.82" stroke="#fff" stroke-width="1.3"/>
<text x="0" y="0" transform="translate(132.6 683.3) scale(1 1.06)" font-size="14.3" fill="#000" text-anchor="middle" stroke="#000" stroke-width="0.25">4</text>
<text x="0" y="0" transform="translate(151.133 683.3) scale(1 1.06)" font-size="14.3" fill="#000" text-anchor="middle" stroke="#000" stroke-width="0.25">6</text>
<text x="0" y="0" transform="translate(169.666 683.3) scale(1 1.06)" font-size="14.3" fill="#000" text-anchor="middle" stroke="#000" stroke-width="0.25">8</text>
<text x="0" y="0" transform="translate(188.199 683.3) scale(1 1.06)" font-size="14.3" fill="#000" text-anchor="middle" stroke="#000" stroke-width="0.25">10</text>
<text x="0" y="0" transform="translate(206.732 683.3) scale(1 1.06)" font-size="14.3" fill="#000" text-anchor="middle" stroke="#000" stroke-width="0.25">11</text>
<text x="0" y="0" transform="translate(225.265 683.3) scale(1 1.06)" font-size="14.3" fill="#000" text-anchor="middle" stroke="#000" stroke-width="0.25">11</text>
<text x="0" y="0" transform="translate(243.798 683.3) scale(1 1.06)" font-size="14.3" fill="#000" text-anchor="middle" stroke="#000" stroke-width="0.25">11</text>
<text x="0" y="0" transform="translate(262.331 683.3) scale(1 1.06)" font-size="14.3" fill="#000" text-anchor="middle" stroke="#000" stroke-width="0.25">11</text>
<text x="0" y="0" transform="translate(280.864 683.3) scale(1 1.06)" font-size="14.3" fill="#000" text-anchor="middle" stroke="#000" stroke-width="0.25">11</text>
<text x="0" y="0" transform="translate(299.397 683.3) scale(1 1.06)" font-size="14.3" fill="#000" text-anchor="middle" stroke="#000" stroke-width="0.25">11</text>
<text x="0" y="0" transform="translate(317.93 683.3) scale(1 1.06)" font-size="14.3" fill="#000" text-anchor="middle" stroke="#000" stroke-width="0.25">11</text>
<text x="0" y="0" transform="translate(336.463 683.3) scale(1 1.06)" font-size="14.3" fill="#000" text-anchor="middle" stroke="#000" stroke-width="0.25">11</text>
<text x="0" y="0" transform="translate(354.996 683.3) scale(1 1.06)" font-size="14.3" fill="#000" text-anchor="middle" stroke="#000" stroke-width="0.25">11</text>
<text x="0" y="0" transform="translate(373.529 683.3) scale(1 1.06)" font-size="14.3" fill="#000" text-anchor="middle" stroke="#000" stroke-width="0.25">10</text>
<text x="0" y="0" transform="translate(392.062 683.3) scale(1 1.06)" font-size="14.3" fill="#000" text-anchor="middle" stroke="#000" stroke-width="0.25">10</text>
<text x="0" y="0" transform="translate(410.595 683.3) scale(1 1.06)" font-size="14.3" fill="#000" text-anchor="middle" stroke="#000" stroke-width="0.25">10</text>
<text x="0" y="0" transform="translate(429.128 683.3) scale(1 1.06)" font-size="14.3" fill="#000" text-anchor="middle" stroke="#000" stroke-width="0.25">10</text>
<text x="0" y="0" transform="translate(447.661 683.3) scale(1 1.06)" font-size="14.3" fill="#000" text-anchor="middle" stroke="#000" stroke-width="0.25">10</text>
<text x="0" y="0" transform="translate(466.194 683.3) scale(1 1.06)" font-size="14.3" fill="#000" text-anchor="middle" stroke="#000" stroke-width="0.25">10</text>
<text x="0" y="0" transform="translate(484.727 683.3) scale(1 1.06)" font-size="14.3" fill="#000" text-anchor="middle" stroke="#000" stroke-width="0.25">10</text>
<text x="0" y="0" transform="translate(503.26 683.3) scale(1 1.06)" font-size="14.3" fill="#000" text-anchor="middle" stroke="#000" stroke-width="0.25">10</text>
<text x="0" y="0" transform="translate(521.793 683.3) scale(1 1.06)" font-size="14.3" fill="#000" text-anchor="middle" stroke="#000" stroke-width="0.25">10</text>
<text x="0" y="0" transform="translate(540.326 683.3) scale(1 1.06)" font-size="14.3" fill="#000" text-anchor="middle" stroke="#000" stroke-width="0.25">9</text>
<text x="0" y="0" transform="translate(558.859 683.3) scale(1 1.06)" font-size="14.3" fill="#000" text-anchor="middle" stroke="#000" stroke-width="0.25">9</text>
<text x="0" y="0" transform="translate(577.392 683.3) scale(1 1.06)" font-size="14.3" fill="#000" text-anchor="middle" stroke="#000" stroke-width="0.25">9</text>
<text x="0" y="0" transform="translate(595.925 683.3) scale(1 1.06)" font-size="14.3" fill="#000" text-anchor="middle" stroke="#000" stroke-width="0.25">9</text>
<text x="0" y="0" transform="translate(614.458 683.3) scale(1 1.06)" font-size="14.3" fill="#000" text-anchor="middle" stroke="#000" stroke-width="0.25">9</text>
<text x="0" y="0" transform="translate(632.991 683.3) scale(1 1.06)" font-size="14.3" fill="#000" text-anchor="middle" stroke="#000" stroke-width="0.25">9</text>
<text x="0" y="0" transform="translate(651.524 683.3) scale(1 1.06)" font-size="14.3" fill="#000" text-anchor="middle" stroke="#000" stroke-width="0.25">9</text>
<text x="0" y="0" transform="translate(670.057 683.3) scale(1 1.06)" font-size="14.3" fill="#000" text-anchor="middle" stroke="#000" stroke-width="0.25">9</text>
<text x="0" y="0" transform="translate(688.59 683.3) scale(1 1.06)" font-size="14.3" fill="#000" text-anchor="middle" stroke="#000" stroke-width="0.25">8</text>
<text x="0" y="0" transform="translate(707.123 683.3) scale(1 1.06)" font-size="14.3" fill="#000" text-anchor="middle" stroke="#000" stroke-width="0.25">6</text>
<text x="0" y="0" transform="translate(725.656 683.3) scale(1 1.06)" font-size="14.3" fill="#000" text-anchor="middle" stroke="#000" stroke-width="0.25">5</text>
<text x="0" y="0" transform="translate(744.189 683.3) scale(1 1.06)" font-size="14.3" fill="#000" text-anchor="middle" stroke="#000" stroke-width="0.25">4</text>
<text x="0" y="0" transform="translate(762.722 683.3) scale(1 1.06)" font-size="14.3" fill="#000" text-anchor="middle" stroke="#000" stroke-width="0.25">4</text>
<text x="0" y="0" transform="translate(781.255 683.3) scale(1 1.06)" font-size="14.3" fill="#000" text-anchor="middle" stroke="#000" stroke-width="0.25">4</text>
<text x="0" y="0" transform="translate(799.788 683.3) scale(1 1.06)" font-size="14.3" fill="#000" text-anchor="middle" stroke="#000" stroke-width="0.25">4</text>
<text x="0" y="0" transform="translate(818.321 683.3) scale(1 1.06)" font-size="14.3" fill="#000" text-anchor="middle" stroke="#000" stroke-width="0.25">4</text>
<text x="0" y="0" transform="translate(836.854 683.3) scale(1 1.06)" font-size="14.3" fill="#000" text-anchor="middle" stroke="#000" stroke-width="0.25">4</text>
<text x="0" y="0" transform="translate(855.387 683.3) scale(1 1.06)" font-size="14.3" fill="#000" text-anchor="middle" stroke="#000" stroke-width="0.25">4</text>
<text x="0" y="0" transform="translate(873.92 683.3) scale(1 1.06)" font-size="14.3" fill="#000" text-anchor="middle" stroke="#000" stroke-width="0.25">4</text>
<text x="0" y="0" transform="translate(892.453 683.3) scale(1 1.06)" font-size="14.3" fill="#000" text-anchor="middle" stroke="#000" stroke-width="0.25">4</text>
<text x="0" y="0" transform="translate(910.986 683.3) scale(1 1.06)" font-size="14.3" fill="#000" text-anchor="middle" stroke="#000" stroke-width="0.25">4</text>
<text x="0" y="0" transform="translate(929.519 683.3) scale(1 1.06)" font-size="14.3" fill="#000" text-anchor="middle" stroke="#000" stroke-width="0.25">4</text>
<text x="0" y="0" transform="translate(948.052 683.3) scale(1 1.06)" font-size="14.3" fill="#000" text-anchor="middle" stroke="#000" stroke-width="0.25">4</text>
<text x="0" y="0" transform="translate(966.585 683.3) scale(1 1.06)" font-size="14.3" fill="#000" text-anchor="middle" stroke="#000" stroke-width="0.25">4</text>
<text x="0" y="0" transform="translate(985.118 683.3) scale(1 1.06)" font-size="14.3" fill="#000" text-anchor="middle" stroke="#000" stroke-width="0.25">4</text>
<text x="0" y="0" transform="translate(794.6 728.6) scale(1 1.04)" font-size="30.2" fill="#000" font-weight="bold">b) 95% AKDE</text>
<line x1="234.7" y1="1258.5" x2="234.7" y2="650.1" stroke="#ff0000" stroke-width="3.3" stroke-dasharray="13 13"/>
<line x1="271.7" y1="1258.5" x2="271.7" y2="650.1" stroke="#ff0000" stroke-width="3.3" stroke-dasharray="13 13"/>
<polyline points="132.6,1042.3 151.13,1100 169.67,1103 188.2,1099 206.73,1070.2 225.26,1040.4 243.8,1032.4 262.33,1121.8 280.86,1078.1 299.4,1087.1 317.93,1107.9 336.46,1101 355,1096 373.53,1075.1 392.06,1058.2 410.6,1032.4 429.13,1018.5 447.66,1061.2 466.19,1087.1 484.73,1079.1 503.26,1061.2 521.79,1041.4 540.33,1042.3 558.86,1076.1 577.39,1091 595.93,1033.4 614.46,1122.8 632.99,1040.4 651.52,1038.4 670.06,1134.8 688.59,1057.2 707.12,1060.2 725.66,1062.2 744.19,1121.8 762.72,1116.9 781.26,1119.8 799.79,1053.3 818.32,1102 836.85,1063.2 855.39,1091 873.92,1120.8 892.45,1096 910.99,1080.1 929.52,1149.7 948.05,1102 966.59,1113.9 985.12,1163.6" fill="none" stroke="#fff" stroke-opacity="0.75" stroke-width="7" stroke-linejoin="round"/>
<polyline points="132.6,1042.3 151.13,1100 169.67,1103 188.2,1099 206.73,1070.2 225.26,1040.4 243.8,1032.4 262.33,1121.8 280.86,1078.1 299.4,1087.1 317.93,1107.9 336.46,1101 355,1096 373.53,1075.1 392.06,1058.2 410.6,1032.4 429.13,1018.5 447.66,1061.2 466.19,1087.1 484.73,1079.1 503.26,1061.2 521.79,1041.4 540.33,1042.3 558.86,1076.1 577.39,1091 595.93,1033.4 614.46,1122.8 632.99,1040.4 651.52,1038.4 670.06,1134.8 688.59,1057.2 707.12,1060.2 725.66,1062.2 744.19,1121.8 762.72,1116.9 781.26,1119.8 799.79,1053.3 818.32,1102 836.85,1063.2 855.39,1091 873.92,1120.8 892.45,1096 910.99,1080.1 929.52,1149.7 948.05,1102 966.59,1113.9 985.12,1163.6" fill="none" stroke="#000" stroke-width="5" stroke-linejoin="round"/>
<circle cx="336.46" cy="793.4" r="12.75" fill="rgba(0,255,255,0.7)" stroke="rgba(0,255,255,0.7)" stroke-width="1.2"/>
<circle cx="632.99" cy="770.5" r="12.75" fill="rgba(0,0,255,0.7)" stroke="rgba(0,0,255,0.7)" stroke-width="1.2"/>
<circle cx="243.8" cy="785.3" r="12.75" fill="rgba(160,32,240,0.7)" stroke="rgba(160,32,240,0.7)" stroke-width="1.2"/>
<circle cx="410.6" cy="937.4" r="12.75" fill="rgba(160,32,240,0.7)" stroke="rgba(160,32,240,0.7)" stroke-width="1.2"/>
<circle cx="243.8" cy="754" r="12.75" fill="rgba(255,0,0,0.7)" stroke="rgba(255,0,0,0.7)" stroke-width="1.2"/>
<circle cx="243.8" cy="769.7" r="12.75" fill="rgba(255,165,0,0.7)" stroke="rgba(255,165,0,0.7)" stroke-width="1.2"/>
<circle cx="299.4" cy="1068.6" r="12.75" fill="rgba(255,165,0,0.7)" stroke="rgba(255,165,0,0.7)" stroke-width="1.2"/>
<circle cx="392.06" cy="1056.3" r="12.75" fill="rgba(255,165,0,0.7)" stroke="rgba(255,165,0,0.7)" stroke-width="1.2"/>
<circle cx="410.6" cy="998.2" r="12.75" fill="rgba(255,165,0,0.7)" stroke="rgba(255,165,0,0.7)" stroke-width="1.2"/>
<circle cx="429.13" cy="930.7" r="12.75" fill="rgba(255,165,0,0.7)" stroke="rgba(255,165,0,0.7)" stroke-width="1.2"/>
<circle cx="447.66" cy="1029" r="12.75" fill="rgba(255,165,0,0.7)" stroke="rgba(255,165,0,0.7)" stroke-width="1.2"/>
<circle cx="799.79" cy="1021.5" r="12.75" fill="rgba(255,165,0,0.7)" stroke="rgba(255,165,0,0.7)" stroke-width="1.2"/>
<circle cx="540.33" cy="785.9" r="12.75" fill="rgba(255,52,179,0.7)" stroke="rgba(255,52,179,0.7)" stroke-width="1.2"/>
<circle cx="206.73" cy="786.4" r="12.75" fill="rgba(0,100,0,0.7)" stroke="rgba(0,100,0,0.7)" stroke-width="1.2"/>
<circle cx="225.26" cy="856.5" r="12.75" fill="rgba(0,100,0,0.7)" stroke="rgba(0,100,0,0.7)" stroke-width="1.2"/>
<circle cx="317.93" cy="791.6" r="12.75" fill="rgba(0,100,0,0.7)" stroke="rgba(0,100,0,0.7)" stroke-width="1.2"/>
<line x1="85.7" y1="1231.7" x2="90.1" y2="1231.7" stroke="#222" stroke-width="1.6"/>
<text x="0" y="0" transform="translate(34.1 1243.6) scale(1 1.04)" font-size="28.5" fill="#4d4d4d">0</text>
<line x1="85.7" y1="1116.32" x2="90.1" y2="1116.32" stroke="#222" stroke-width="1.6"/>
<text x="0" y="0" transform="translate(34.1 1128.225) scale(1 1.04)" font-size="28.5" fill="#4d4d4d">25</text>
<line x1="85.7" y1="1000.95" x2="90.1" y2="1000.95" stroke="#222" stroke-width="1.6"/>
<text x="0" y="0" transform="translate(34.1 1012.85) scale(1 1.04)" font-size="28.5" fill="#4d4d4d">50</text>
<line x1="85.7" y1="885.57" x2="90.1" y2="885.57" stroke="#222" stroke-width="1.6"/>
<text x="0" y="0" transform="translate(34.1 897.475) scale(1 1.04)" font-size="28.5" fill="#4d4d4d">75</text>
<line x1="85.7" y1="770.2" x2="90.1" y2="770.2" stroke="#222" stroke-width="1.6"/>
<text x="0" y="0" transform="translate(34.1 782.1) scale(1 1.04)" font-size="28.5" fill="#4d4d4d">100</text>
<text x="0" y="0" transform="translate(26.5 955.1) rotate(-90) scale(1 1.055)" font-size="33.85" fill="#000" font-weight="bold" text-anchor="middle">Standardized AKDE (%)</text>
<line x1="132.6" y1="1258.5" x2="132.6" y2="1263" stroke="#333" stroke-width="1.5"/>
<text x="0" y="0" transform="translate(139.2 1283) rotate(-90) scale(1 1.04)" font-size="28.5" fill="#4d4d4d" text-anchor="middle">-5</text>
<line x1="169.67" y1="1258.5" x2="169.67" y2="1263" stroke="#333" stroke-width="1.5"/>
<text x="0" y="0" transform="translate(176.266 1283) rotate(-90) scale(1 1.04)" font-size="28.5" fill="#4d4d4d" text-anchor="middle">-3</text>
<line x1="206.73" y1="1258.5" x2="206.73" y2="1263" stroke="#333" stroke-width="1.5"/>
<text x="0" y="0" transform="translate(213.332 1283) rotate(-90) scale(1 1.04)" font-size="28.5" fill="#4d4d4d" text-anchor="middle">-1</text>
<line x1="243.8" y1="1258.5" x2="243.8" y2="1263" stroke="#333" stroke-width="1.5"/>
<text x="0" y="0" transform="translate(250.398 1283) rotate(-90) scale(1 1.04)" font-size="28.5" fill="#4d4d4d" text-anchor="middle">1</text>
<line x1="280.86" y1="1258.5" x2="280.86" y2="1263" stroke="#333" stroke-width="1.5"/>
<text x="0" y="0" transform="translate(287.464 1283) rotate(-90) scale(1 1.04)" font-size="28.5" fill="#4d4d4d" text-anchor="middle">3</text>
<line x1="317.93" y1="1258.5" x2="317.93" y2="1263" stroke="#333" stroke-width="1.5"/>
<text x="0" y="0" transform="translate(324.53 1283) rotate(-90) scale(1 1.04)" font-size="28.5" fill="#4d4d4d" text-anchor="middle">5</text>
<line x1="355" y1="1258.5" x2="355" y2="1263" stroke="#333" stroke-width="1.5"/>
<text x="0" y="0" transform="translate(361.596 1283) rotate(-90) scale(1 1.04)" font-size="28.5" fill="#4d4d4d" text-anchor="middle">7</text>
<line x1="392.06" y1="1258.5" x2="392.06" y2="1263" stroke="#333" stroke-width="1.5"/>
<text x="0" y="0" transform="translate(398.662 1283) rotate(-90) scale(1 1.04)" font-size="28.5" fill="#4d4d4d" text-anchor="middle">9</text>
<line x1="429.13" y1="1258.5" x2="429.13" y2="1263" stroke="#333" stroke-width="1.5"/>
<text x="0" y="0" transform="translate(435.728 1283) rotate(-90) scale(1 1.04)" font-size="28.5" fill="#4d4d4d" text-anchor="middle">11</text>
<line x1="466.19" y1="1258.5" x2="466.19" y2="1263" stroke="#333" stroke-width="1.5"/>
<text x="0" y="0" transform="translate(472.794 1283) rotate(-90) scale(1 1.04)" font-size="28.5" fill="#4d4d4d" text-anchor="middle">13</text>
<line x1="503.26" y1="1258.5" x2="503.26" y2="1263" stroke="#333" stroke-width="1.5"/>
<text x="0" y="0" transform="translate(509.86 1283) rotate(-90) scale(1 1.04)" font-size="28.5" fill="#4d4d4d" text-anchor="middle">15</text>
<line x1="540.33" y1="1258.5" x2="540.33" y2="1263" stroke="#333" stroke-width="1.5"/>
<text x="0" y="0" transform="translate(546.926 1283) rotate(-90) scale(1 1.04)" font-size="28.5" fill="#4d4d4d" text-anchor="middle">17</text>
<line x1="577.39" y1="1258.5" x2="577.39" y2="1263" stroke="#333" stroke-width="1.5"/>
<text x="0" y="0" transform="translate(583.992 1283) rotate(-90) scale(1 1.04)" font-size="28.5" fill="#4d4d4d" text-anchor="middle">19</text>
<line x1="614.46" y1="1258.5" x2="614.46" y2="1263" stroke="#333" stroke-width="1.5"/>
<text x="0" y="0" transform="translate(621.058 1283) rotate(-90) scale(1 1.04)" font-size="28.5" fill="#4d4d4d" text-anchor="middle">21</text>
<line x1="651.52" y1="1258.5" x2="651.52" y2="1263" stroke="#333" stroke-width="1.5"/>
<text x="0" y="0" transform="translate(658.124 1283) rotate(-90) scale(1 1.04)" font-size="28.5" fill="#4d4d4d" text-anchor="middle">23</text>
<line x1="688.59" y1="1258.5" x2="688.59" y2="1263" stroke="#333" stroke-width="1.5"/>
<text x="0" y="0" transform="translate(695.19 1283) rotate(-90) scale(1 1.04)" font-size="28.5" fill="#4d4d4d" text-anchor="middle">25</text>
<line x1="725.66" y1="1258.5" x2="725.66" y2="1263" stroke="#333" stroke-width="1.5"/>
<text x="0" y="0" transform="translate(732.256 1283) rotate(-90) scale(1 1.04)" font-size="28.5" fill="#4d4d4d" text-anchor="middle">27</text>
<line x1="762.72" y1="1258.5" x2="762.72" y2="1263" stroke="#333" stroke-width="1.5"/>
<text x="0" y="0" transform="translate(769.322 1283) rotate(-90) scale(1 1.04)" font-size="28.5" fill="#4d4d4d" text-anchor="middle">29</text>
<line x1="799.79" y1="1258.5" x2="799.79" y2="1263" stroke="#333" stroke-width="1.5"/>
<text x="0" y="0" transform="translate(806.388 1283) rotate(-90) scale(1 1.04)" font-size="28.5" fill="#4d4d4d" text-anchor="middle">31</text>
<line x1="836.85" y1="1258.5" x2="836.85" y2="1263" stroke="#333" stroke-width="1.5"/>
<text x="0" y="0" transform="translate(843.454 1283) rotate(-90) scale(1 1.04)" font-size="28.5" fill="#4d4d4d" text-anchor="middle">33</text>
<line x1="873.92" y1="1258.5" x2="873.92" y2="1263" stroke="#333" stroke-width="1.5"/>
<text x="0" y="0" transform="translate(880.52 1283) rotate(-90) scale(1 1.04)" font-size="28.5" fill="#4d4d4d" text-anchor="middle">35</text>
<line x1="910.99" y1="1258.5" x2="910.99" y2="1263" stroke="#333" stroke-width="1.5"/>
<text x="0" y="0" transform="translate(917.586 1283) rotate(-90) scale(1 1.04)" font-size="28.5" fill="#4d4d4d" text-anchor="middle">37</text>
<line x1="948.05" y1="1258.5" x2="948.05" y2="1263" stroke="#333" stroke-width="1.5"/>
<text x="0" y="0" transform="translate(954.652 1283) rotate(-90) scale(1 1.04)" font-size="28.5" fill="#4d4d4d" text-anchor="middle">39</text>
<line x1="985.12" y1="1258.5" x2="985.12" y2="1263" stroke="#333" stroke-width="1.5"/>
<text x="0" y="0" transform="translate(991.718 1283) rotate(-90) scale(1 1.04)" font-size="28.5" fill="#4d4d4d" text-anchor="middle">41</text>
<rect x="128.5" y="1303.6" width="892.7" height="62.1" fill="#d9d9d9"/>
<text x="0" y="0" transform="translate(151.2 1327.8)" font-size="24" fill="#000" text-anchor="middle" stroke="#000" stroke-width="0.4">|</text>
<text x="0" y="0" transform="translate(230.9 1327.8)" font-size="24" fill="#000" text-anchor="middle" stroke="#000" stroke-width="0.4">|</text>
<text x="0" y="0" transform="translate(307.7 1327.8)" font-size="24" fill="#000" text-anchor="middle" stroke="#000" stroke-width="0.4">|</text>
<text x="0" y="0" transform="translate(383.5 1327.8)" font-size="24" fill="#000" text-anchor="middle" stroke="#000" stroke-width="0.4">|</text>
<text x="0" y="0" transform="translate(464.5 1327.8)" font-size="24" fill="#000" text-anchor="middle" stroke="#000" stroke-width="0.4">|</text>
<text x="0" y="0" transform="translate(543.5 1327.8)" font-size="24" fill="#000" text-anchor="middle" stroke="#000" stroke-width="0.4">|</text>
<text x="0" y="0" transform="translate(616.7 1327.8)" font-size="24" fill="#000" text-anchor="middle" stroke="#000" stroke-width="0.4">|</text>
<text x="0" y="0" transform="translate(693.5 1327.8)" font-size="24" fill="#000" text-anchor="middle" stroke="#000" stroke-width="0.4">|</text>
<text x="0" y="0" transform="translate(775.7 1327.8)" font-size="24" fill="#000" text-anchor="middle" stroke="#000" stroke-width="0.4">|</text>
<text x="0" y="0" transform="translate(852.4 1327.8)" font-size="24" fill="#000" text-anchor="middle" stroke="#000" stroke-width="0.4">|</text>
<text x="0" y="0" transform="translate(936.4 1327.8)" font-size="24" fill="#000" text-anchor="middle" stroke="#000" stroke-width="0.4">|</text>
<text x="0" y="0" transform="translate(1010.6 1327.8)" font-size="24" fill="#000" text-anchor="middle" stroke="#000" stroke-width="0.4">|</text>
<text x="0" y="0" transform="translate(191.4 1328.8)" font-size="24" fill="#000" text-anchor="middle" stroke="#000" stroke-width="0.35">Aug</text>
<text x="0" y="0" transform="translate(269.3 1328.8)" font-size="24" fill="#000" text-anchor="middle" stroke="#000" stroke-width="0.35">Sep</text>
<text x="0" y="0" transform="translate(345.6 1328.8)" font-size="24" fill="#000" text-anchor="middle" stroke="#000" stroke-width="0.35">Oct</text>
<text x="0" y="0" transform="translate(424.6 1328.8)" font-size="24" fill="#000" text-anchor="middle" stroke="#000" stroke-width="0.35">Nov</text>
<text x="0" y="0" transform="translate(504.7 1328.8)" font-size="24" fill="#000" text-anchor="middle" stroke="#000" stroke-width="0.35">Dec</text>
<text x="0" y="0" transform="translate(579.2 1328.8)" font-size="24" fill="#000" text-anchor="middle" stroke="#000" stroke-width="0.35">Jan</text>
<text x="0" y="0" transform="translate(654.5 1328.8)" font-size="24" fill="#000" text-anchor="middle" stroke="#000" stroke-width="0.35">Feb</text>
<text x="0" y="0" transform="translate(734 1328.8)" font-size="24" fill="#000" text-anchor="middle" stroke="#000" stroke-width="0.35">Mar</text>
<text x="0" y="0" transform="translate(813.7 1328.8)" font-size="24" fill="#000" text-anchor="middle" stroke="#000" stroke-width="0.35">Apr</text>
<text x="0" y="0" transform="translate(894 1328.8)" font-size="24" fill="#000" text-anchor="middle" stroke="#000" stroke-width="0.35">May</text>
<text x="0" y="0" transform="translate(973 1328.8)" font-size="24" fill="#000" text-anchor="middle" stroke="#000" stroke-width="0.35">Jun</text>
<text x="0" y="0" transform="translate(151.2 1357.2)" font-size="24" fill="#000" text-anchor="middle" stroke="#000" stroke-width="0.4">|</text>
<text x="0" y="0" transform="translate(543.5 1357.2)" font-size="24" fill="#000" text-anchor="middle" stroke="#000" stroke-width="0.4">|</text>
<text x="0" y="0" transform="translate(1010 1357.2)" font-size="24" fill="#000" text-anchor="middle" stroke="#000" stroke-width="0.4">|</text>
<text x="0" y="0" transform="translate(338 1357.3)" font-size="24" fill="#000" text-anchor="middle" stroke="#000" stroke-width="0.35">2018</text>
<text x="0" y="0" transform="translate(785.7 1357.3)" font-size="24" fill="#000" text-anchor="middle" stroke="#000" stroke-width="0.35">2019</text>
<text x="0" y="0" transform="translate(556 1407) scale(1 1.04)" font-size="33.6" fill="#000" font-weight="bold" text-anchor="middle">Week relative to Irma</text>
<text x="0" y="0" transform="translate(1052.3 169.9)" font-size="21.6" fill="#000">ID (# outliers/# weeks tagged)</text>
<line x1="1052.6" y1="173.5" x2="1339.8" y2="173.5" stroke="#000" stroke-width="1.4"/>
<rect x="1055.9" y="185.6" width="32.4" height="31.3" fill="#f2f2f2"/>
<circle cx="1072.1" cy="201.2" r="12.8" fill="rgba(0,255,0,0.7)" stroke="rgba(0,255,0,0.7)" stroke-width="1.2"/>
<text x="0" y="0" transform="translate(1098.5 214) scale(1 1.04)" font-size="33.5" fill="#000">1258</text>
<text x="0" y="0" transform="translate(1176 210.2) scale(1 1.04)" font-size="30.5" fill="#000"><tspan letter-spacing="0.4">(</tspan><tspan font-size="29.3" letter-spacing="0.4">2/28</tspan><tspan>)</tspan></text>
<rect x="1055.9" y="219.24" width="32.4" height="31.3" fill="#f2f2f2"/>
<circle cx="1072.1" cy="234.84" r="12.8" fill="rgba(0,0,255,0.7)" stroke="rgba(0,0,255,0.7)" stroke-width="1.2"/>
<text x="0" y="0" transform="translate(1098.5 247.64) scale(1 1.04)" font-size="33.5" fill="#000">1259</text>
<text x="0" y="0" transform="translate(1178 243.84) scale(1 1.04)" font-size="30.5" fill="#000"><tspan letter-spacing="0.4">(</tspan><tspan font-size="29.3" letter-spacing="0.4">3/29</tspan><tspan>)</tspan></text>
<rect x="1055.9" y="252.88" width="32.4" height="31.3" fill="#f2f2f2"/>
<circle cx="1072.1" cy="268.48" r="12.8" fill="rgba(160,32,240,0.7)" stroke="rgba(160,32,240,0.7)" stroke-width="1.2"/>
<text x="0" y="0" transform="translate(1098.5 281.28) scale(1 1.04)" font-size="33.5" fill="#000">1261</text>
<text x="0" y="0" transform="translate(1174.7 277.48) scale(1 1.04)" font-size="30.5" fill="#000"><tspan letter-spacing="0.4">(</tspan><tspan font-size="29.3" letter-spacing="0.4">1/29</tspan><tspan>)</tspan></text>
<rect x="1055.9" y="286.52" width="32.4" height="31.3" fill="#f2f2f2"/>
<circle cx="1072.1" cy="302.12" r="12.8" fill="rgba(255,0,0,0.7)" stroke="rgba(255,0,0,0.7)" stroke-width="1.2"/>
<text x="0" y="0" transform="translate(1098.5 314.92) scale(1 1.04)" font-size="33.5" fill="#000">1262</text>
<text x="0" y="0" transform="translate(1178 311.12) scale(1 1.04)" font-size="30.5" fill="#000"><tspan letter-spacing="0.4">(</tspan><tspan font-size="29.3" letter-spacing="0.4">3/64</tspan><tspan>)</tspan></text>
<rect x="1055.9" y="320.16" width="32.4" height="31.3" fill="#f2f2f2"/>
<circle cx="1072.1" cy="335.76" r="12.8" fill="rgba(255,165,0,0.7)" stroke="rgba(255,165,0,0.7)" stroke-width="1.2"/>
<text x="0" y="0" transform="translate(1098.5 348.56) scale(1 1.04)" font-size="33.5" fill="#000">1263</text>
<text x="0" y="0" transform="translate(1178 344.76) scale(1 1.04)" font-size="30.5" fill="#000"><tspan letter-spacing="0.4">(</tspan><tspan font-size="29.3" letter-spacing="0.4">7/65</tspan><tspan>)</tspan></text>
<rect x="1055.9" y="353.8" width="32.4" height="31.3" fill="#f2f2f2"/>
<circle cx="1072.1" cy="369.4" r="12.8" fill="rgba(255,52,179,0.7)" stroke="rgba(255,52,179,0.7)" stroke-width="1.2"/>
<text x="0" y="0" transform="translate(1098.5 382.2) scale(1 1.04)" font-size="33.5" fill="#000">1264</text>
<text x="0" y="0" transform="translate(1178 378.4) scale(1 1.04)" font-size="30.5" fill="#000"><tspan letter-spacing="0.4">(</tspan><tspan font-size="29.3" letter-spacing="0.4">2/47</tspan><tspan>)</tspan></text>
<rect x="1055.9" y="387.44" width="32.4" height="31.3" fill="#f2f2f2"/>
<circle cx="1072.1" cy="403.04" r="12.8" fill="rgba(0,100,0,0.7)" stroke="rgba(0,100,0,0.7)" stroke-width="1.2"/>
<text x="0" y="0" transform="translate(1098.5 415.84) scale(1 1.04)" font-size="33.5" fill="#000">15785</text>
<text x="0" y="0" transform="translate(1194.6 412.04) scale(1 1.04)" font-size="30.5" fill="#000"><tspan letter-spacing="0.4">(</tspan><tspan font-size="29.3" letter-spacing="0.4">3/63</tspan><tspan>)</tspan></text>
<rect x="1055.9" y="421.08" width="32.4" height="31.3" fill="#f2f2f2"/>
<circle cx="1072.1" cy="436.68" r="12.8" fill="rgba(0,255,255,0.7)" stroke="rgba(0,255,255,0.7)" stroke-width="1.2"/>
<text x="0" y="0" transform="translate(1098.5 449.48) scale(1 1.04)" font-size="33.5" fill="#000">24455</text>
<text x="0" y="0" transform="translate(1194.6 445.68) scale(1 1.04)" font-size="30.5" fill="#000"><tspan letter-spacing="0.4">(</tspan><tspan font-size="29.3" letter-spacing="0.4">7/123</tspan><tspan>)</tspan></text>
<text x="0" y="0" transform="translate(1065.5 479) scale(1 1.04)" font-size="25" fill="#000" stroke="#000" stroke-width="0.3">x</text>
<text x="0" y="0" transform="translate(1096 484.6) scale(1 1.04)" font-size="33.5" fill="#000">1257</text>
<text x="0" y="0" transform="translate(1180 484.6) scale(1 1.04)" font-size="30.5" fill="#000"><tspan letter-spacing="0.4">(</tspan><tspan font-size="29.3" letter-spacing="0.4">0/29</tspan><tspan>)</tspan></text>
<text x="0" y="0" transform="translate(1065.5 514.4) scale(1 1.04)" font-size="25" fill="#000" stroke="#000" stroke-width="0.3">x</text>
<text x="0" y="0" transform="translate(1096 520) scale(1 1.04)" font-size="33.5" fill="#000">1260</text>
<text x="0" y="0" transform="translate(1180 520) scale(1 1.04)" font-size="30.5" fill="#000"><tspan letter-spacing="0.4">(</tspan><tspan font-size="29.3" letter-spacing="0.4">0/29</tspan><tspan>)</tspan></text>
<text x="0" y="0" transform="translate(1065.5 549.8) scale(1 1.04)" font-size="25" fill="#000" stroke="#000" stroke-width="0.3">x</text>
<text x="0" y="0" transform="translate(1096 555.4) scale(1 1.04)" font-size="33.5" fill="#000">12499</text>
<text x="0" y="0" transform="translate(1198.3 555.4) scale(1 1.04)" font-size="30.5" fill="#000"><tspan letter-spacing="0.4">(</tspan><tspan font-size="29.3" letter-spacing="0.4">0/141</tspan><tspan>)</tspan></text>
<text x="0" y="0" transform="translate(1052.9 832)" font-size="21.6" fill="#000">ID (# outliers/# weeks tagged)</text>
<line x1="1052.6" y1="835.6" x2="1339.8" y2="835.6" stroke="#000" stroke-width="1.4"/>
<rect x="1055.9" y="850.9" width="32.4" height="31.3" fill="#f2f2f2"/>
<circle cx="1072.1" cy="866.5" r="12.8" fill="rgba(0,0,255,0.7)" stroke="rgba(0,0,255,0.7)" stroke-width="1.2"/>
<text x="0" y="0" transform="translate(1098.5 879.3) scale(1 1.04)" font-size="33.5" fill="#000">1259</text>
<text x="0" y="0" transform="translate(1178.5 875.5) scale(1 1.04)" font-size="30.5" fill="#000"><tspan letter-spacing="0.4">(</tspan><tspan font-size="29.3" letter-spacing="0.4">1/29</tspan><tspan>)</tspan></text>
<rect x="1055.9" y="884.6" width="32.4" height="31.3" fill="#f2f2f2"/>
<circle cx="1072.1" cy="900.2" r="12.8" fill="rgba(160,32,240,0.7)" stroke="rgba(160,32,240,0.7)" stroke-width="1.2"/>
<text x="0" y="0" transform="translate(1098.5 913) scale(1 1.04)" font-size="33.5" fill="#000">1261</text>
<text x="0" y="0" transform="translate(1178.5 909.2) scale(1 1.04)" font-size="30.5" fill="#000"><tspan letter-spacing="0.4">(</tspan><tspan font-size="29.3" letter-spacing="0.4">2/29</tspan><tspan>)</tspan></text>
<rect x="1055.9" y="918.3" width="32.4" height="31.3" fill="#f2f2f2"/>
<circle cx="1072.1" cy="933.9" r="12.8" fill="rgba(255,0,0,0.7)" stroke="rgba(255,0,0,0.7)" stroke-width="1.2"/>
<text x="0" y="0" transform="translate(1098.5 946.7) scale(1 1.04)" font-size="33.5" fill="#000">1262</text>
<text x="0" y="0" transform="translate(1178.5 942.9) scale(1 1.04)" font-size="30.5" fill="#000"><tspan letter-spacing="0.4">(</tspan><tspan font-size="29.3" letter-spacing="0.4">3/64</tspan><tspan>)</tspan></text>
<rect x="1055.9" y="952" width="32.4" height="31.3" fill="#f2f2f2"/>
<circle cx="1072.1" cy="967.6" r="12.8" fill="rgba(255,165,0,0.7)" stroke="rgba(255,165,0,0.7)" stroke-width="1.2"/>
<text x="0" y="0" transform="translate(1098.5 980.4) scale(1 1.04)" font-size="33.5" fill="#000">1263</text>
<text x="0" y="0" transform="translate(1177 976.6) scale(1 1.04)" font-size="30.5" fill="#000"><tspan letter-spacing="0.4">(</tspan><tspan font-size="29.3" letter-spacing="0.4">11/65</tspan><tspan>)</tspan></text>
<rect x="1055.9" y="985.7" width="32.4" height="31.3" fill="#f2f2f2"/>
<circle cx="1072.1" cy="1001.3" r="12.8" fill="rgba(255,52,179,0.7)" stroke="rgba(255,52,179,0.7)" stroke-width="1.2"/>
<text x="0" y="0" transform="translate(1098.5 1014.1) scale(1 1.04)" font-size="33.5" fill="#000">1264</text>
<text x="0" y="0" transform="translate(1177 1010.3) scale(1 1.04)" font-size="30.5" fill="#000"><tspan letter-spacing="0.4">(</tspan><tspan font-size="29.3" letter-spacing="0.4">1/47</tspan><tspan>)</tspan></text>
<rect x="1055.9" y="1019.4" width="32.4" height="31.3" fill="#f2f2f2"/>
<circle cx="1072.1" cy="1035" r="12.8" fill="rgba(0,100,0,0.7)" stroke="rgba(0,100,0,0.7)" stroke-width="1.2"/>
<text x="0" y="0" transform="translate(1098.5 1047.8) scale(1 1.04)" font-size="33.5" fill="#000">15785</text>
<text x="0" y="0" transform="translate(1195.3 1044) scale(1 1.04)" font-size="30.5" fill="#000"><tspan letter-spacing="0.4">(</tspan><tspan font-size="29.3" letter-spacing="0.4">3/63</tspan><tspan>)</tspan></text>
<rect x="1055.9" y="1053.1" width="32.4" height="31.3" fill="#f2f2f2"/>
<circle cx="1072.1" cy="1068.7" r="12.8" fill="rgba(0,255,255,0.7)" stroke="rgba(0,255,255,0.7)" stroke-width="1.2"/>
<text x="0" y="0" transform="translate(1098.5 1081.5) scale(1 1.04)" font-size="33.5" fill="#000">24455</text>
<text x="0" y="0" transform="translate(1195.3 1077.7) scale(1 1.04)" font-size="30.5" fill="#000"><tspan letter-spacing="0.4">(</tspan><tspan font-size="29.3" letter-spacing="0.4">4/123</tspan><tspan>)</tspan></text>
<text x="0" y="0" transform="translate(1065.5 1109) scale(1 1.04)" font-size="25" fill="#000" stroke="#000" stroke-width="0.3">x</text>
<text x="0" y="0" transform="translate(1096 1114.6) scale(1 1.04)" font-size="33.5" fill="#000">1257</text>
<text x="0" y="0" transform="translate(1178.5 1114.6) scale(1 1.04)" font-size="30.5" fill="#000"><tspan letter-spacing="0.4">(</tspan><tspan font-size="29.3" letter-spacing="0.4">0/29</tspan><tspan>)</tspan></text>
<text x="0" y="0" transform="translate(1065.5 1142) scale(1 1.04)" font-size="25" fill="#000" stroke="#000" stroke-width="0.3">x</text>
<text x="0" y="0" transform="translate(1096 1147.6) scale(1 1.04)" font-size="33.5" fill="#000">1258</text>
<text x="0" y="0" transform="translate(1178.5 1147.6) scale(1 1.04)" font-size="30.5" fill="#000"><tspan letter-spacing="0.4">(</tspan><tspan font-size="29.3" letter-spacing="0.4">0/28</tspan><tspan>)</tspan></text>
<text x="0" y="0" transform="translate(1065.5 1175) scale(1 1.04)" font-size="25" fill="#000" stroke="#000" stroke-width="0.3">x</text>
<text x="0" y="0" transform="translate(1096 1180.6) scale(1 1.04)" font-size="33.5" fill="#000">1260</text>
<text x="0" y="0" transform="translate(1178.5 1180.6) scale(1 1.04)" font-size="30.5" fill="#000"><tspan letter-spacing="0.4">(</tspan><tspan font-size="29.3" letter-spacing="0.4">0/29</tspan><tspan>)</tspan></text>
<text x="0" y="0" transform="translate(1065.5 1208) scale(1 1.04)" font-size="25" fill="#000" stroke="#000" stroke-width="0.3">x</text>
<text x="0" y="0" transform="translate(1096 1213.6) scale(1 1.04)" font-size="33.5" fill="#000">12499</text>
<text x="0" y="0" transform="translate(1197.9 1213.6) scale(1 1.04)" font-size="30.5" fill="#000"><tspan letter-spacing="0.4">(</tspan><tspan font-size="29.3" letter-spacing="0.4">0/141</tspan><tspan>)</tspan></text>
</svg></body></html>
